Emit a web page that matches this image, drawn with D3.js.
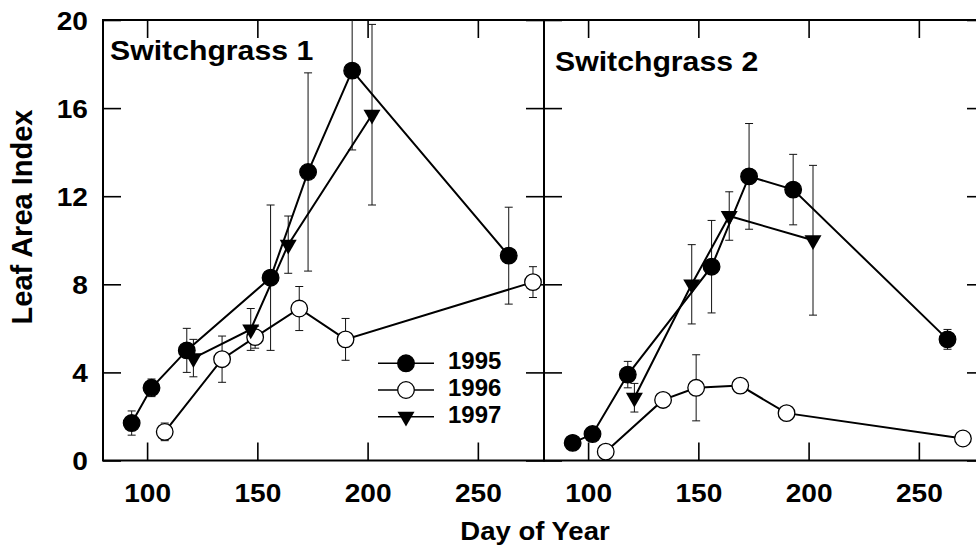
<!DOCTYPE html>
<html>
<head>
<meta charset="utf-8">
<script src="https://cdn.jsdelivr.net/npm/d3@7"></script>
<style>
  body { margin: 0; background: #fff; }
  text { font-family: "Liberation Sans", Arial, Helvetica, sans-serif; font-weight: bold; fill: #000; }
</style>
</head>
<body>
<script>
// ---------- DATA ----------
const panelTitles = ["Switchgrass 1", "Switchgrass 2"];
const years = ["1995", "1996", "1997"];
const xTicks = [100, 150, 200, 250];
const yTicks = [0, 4, 8, 12, 16, 20];

// Switchgrass 1
const sg1Days1995 = [93, 102, 118, 156, 173, 193, 264];
const sg1Lai1995  = [1.7, 3.3, 5.0, 8.3, 13.1, 17.7, 9.3];
const sg1Err1995  = [0.55, 0.4, 1.0, 3.3, 4.5, 3.6, 2.2];

const sg1Days1996 = [108, 134, 149, 169, 190, 275];
const sg1Lai1996  = [1.3, 4.6, 5.6, 6.9, 5.5, 8.1];
const sg1Err1996  = [0.4, 1.05, 0.5, 1.0, 0.95, 0.7];

const sg1Days1997 = [121, 147, 164, 202];
const sg1Lai1997  = [4.65, 5.95, 9.8, 15.7];
const sg1Err1997  = [0.85, 0.95, 1.3, 4.1];

// Switchgrass 2
const sg2Days1995 = [93, 102, 118, 156, 173, 193, 263];
const sg2Lai1995  = [0.8, 1.2, 3.9, 8.8, 12.9, 12.3, 5.5];
const sg2Err1995  = [0, 0, 0.6, 2.1, 2.4, 1.6, 0.45];

const sg2Days1996 = [108, 134, 149, 169, 190, 270];
const sg2Lai1996  = [0.4, 2.75, 3.3, 3.4, 2.15, 1.0];
const sg2Err1996  = [0, 0, 1.5, 0.15, 0, 0];

const sg2Days1997 = [121, 147, 164, 202];
const sg2Lai1997  = [2.85, 8.0, 11.1, 10.0];
const sg2Err1997  = [0.65, 1.8, 1.1, 3.4];

// ---------- BUILD ----------
function series(days, lai, err) { return days.map((d, i) => ({ day: d, v: lai[i], e: err[i] })); }
const panelsData = [
  [series(sg1Days1995, sg1Lai1995, sg1Err1995), series(sg1Days1996, sg1Lai1996, sg1Err1996), series(sg1Days1997, sg1Lai1997, sg1Err1997)],
  [series(sg2Days1995, sg2Lai1995, sg2Err1995), series(sg2Days1996, sg2Lai1996, sg2Err1996), series(sg2Days1997, sg2Lai1997, sg2Err1997)]
];

const W = 976, H = 548;
const yTop = 20, yBottom = 460.5;
const panelLeft = [103, 544];
const panelW = 441;
const SX = 1.08; // horizontal text stretch

const svg = d3.select("body").append("svg").attr("width", W).attr("height", H);

const y = d3.scaleLinear().domain([0, 20]).range([yBottom, yTop]);

const markerKind = ["filled", "open", "tri"];
const triPath = d3.symbol(d3.symbolTriangle, 125)();

function stretchedText(g, x, yy, txt, size, anchor) {
  return g.append("text")
    .attr("transform", `translate(${x},${yy}) scale(${SX},1)`)
    .attr("text-anchor", anchor)
    .style("font-size", size + "px")
    .text(txt);
}

panelLeft.forEach((x0, pi) => {
  const x = d3.scaleLinear().domain([80, 280]).range([x0, x0 + panelW]);
  const g = svg.append("g");

  // clip
  const cid = "clip" + pi;
  svg.append("defs").append("clipPath").attr("id", cid)
    .append("rect").attr("x", x0).attr("y", yTop).attr("width", panelW).attr("height", yBottom - yTop);

  // axes ticks (inward)
  const bAx = g.append("g").attr("transform", `translate(0,${yBottom})`)
    .call(d3.axisBottom(x).tickValues(xTicks).tickSize(-18).tickSizeOuter(0).tickPadding(23.5).tickFormat(d3.format("d")));
  bAx.selectAll("text").attr("transform", `scale(${SX},1)`).style("font-size", "26px");
  g.append("g").attr("transform", `translate(0,${yTop})`)
    .call(d3.axisTop(x).tickValues(xTicks).tickSize(-18).tickSizeOuter(0).tickFormat(""));
  const lAx = g.append("g").attr("transform", `translate(${x0},0)`)
    .call(d3.axisLeft(y).tickValues(yTicks).tickSize(-18).tickSizeOuter(0).tickPadding(14)
      .tickFormat(pi === 0 ? d3.format("d") : ""));
  lAx.selectAll("text").attr("transform", `scale(${SX},1)`).attr("dy", "0.36em").style("font-size", "26px");
  g.append("g").attr("transform", `translate(${x0 + panelW},0)`)
    .call(d3.axisRight(y).tickValues(yTicks).tickSize(-18).tickSizeOuter(0).tickFormat(""));
  g.selectAll(".domain").remove();
  g.selectAll(".tick line").attr("stroke", "#000").attr("stroke-width", 1.6);

  // frame
  g.append("rect").attr("x", x0).attr("y", yTop).attr("width", panelW).attr("height", yBottom - yTop)
    .attr("fill", "none").attr("stroke", "#000").attr("stroke-width", 2);

  // title
  stretchedText(g, pi === 0 ? 110 : 555, pi === 0 ? 59.5 : 70.5, panelTitles[pi], 28, "start");

  const dg = g.append("g").attr("clip-path", `url(#${cid})`);
  const line = d3.line().x(d => x(d.day)).y(d => y(d.v));

  panelsData[pi].forEach((s, si) => {
    const eb = dg.append("g").attr("stroke", "#111").attr("stroke-width", 1);
    s.filter(d => d.e > 0).forEach(d => {
      eb.append("line").attr("x1", x(d.day)).attr("x2", x(d.day)).attr("y1", y(d.v - d.e)).attr("y2", y(d.v + d.e));
      [d.v - d.e, d.v + d.e].forEach(v => {
        eb.append("line").attr("x1", x(d.day) - 4).attr("x2", x(d.day) + 4).attr("y1", y(v)).attr("y2", y(v));
      });
    });
  });
  panelsData[pi].forEach((s, si) => {
    dg.append("path").datum(s).attr("d", line).attr("fill", "none").attr("stroke", "#000").attr("stroke-width", 2);
  });
  panelsData[pi].forEach((s, si) => {
    const k = markerKind[si];
    if (k === "tri") {
      dg.selectAll(null).data(s).enter().append("path").attr("d", triPath)
        .attr("transform", d => `translate(${x(d.day)},${y(d.v)}) rotate(180)`).attr("fill", "#000");
    } else {
      dg.selectAll(null).data(s).enter().append("circle")
        .attr("cx", d => x(d.day)).attr("cy", d => y(d.v)).attr("r", 8.3)
        .attr("fill", k === "filled" ? "#000" : "#fff").attr("stroke", "#000").attr("stroke-width", 1.3);
    }
  });
});

// axis titles
stretchedText(svg, 535, 539.5, "Day of Year", 25.5, "middle");
svg.append("text").attr("transform", "translate(32,217) rotate(-90)").attr("text-anchor", "middle")
  .style("font-size", "29px").text("Leaf Area Index");

// legend
const lg = svg.append("g");
years.forEach((yr, i) => {
  const ly = 363.3 + i * 26.7;
  lg.append("line").attr("x1", 378).attr("x2", 434).attr("y1", ly).attr("y2", ly).attr("stroke", "#000").attr("stroke-width", 1.6);
  const k = markerKind[i];
  if (k === "tri") {
    lg.append("path").attr("d", triPath).attr("transform", `translate(406,${ly}) rotate(180)`).attr("fill", "#000");
  } else {
    lg.append("circle").attr("cx", 406).attr("cy", ly).attr("r", 8.3)
      .attr("fill", k === "filled" ? "#000" : "#fff").attr("stroke", "#000").attr("stroke-width", 1.3);
  }
  lg.append("text").attr("transform", `translate(448,${ly + 6}) scale(1.02,1)`).style("font-size", "23.5px").text(yr);
});
</script>
</body>
</html>
